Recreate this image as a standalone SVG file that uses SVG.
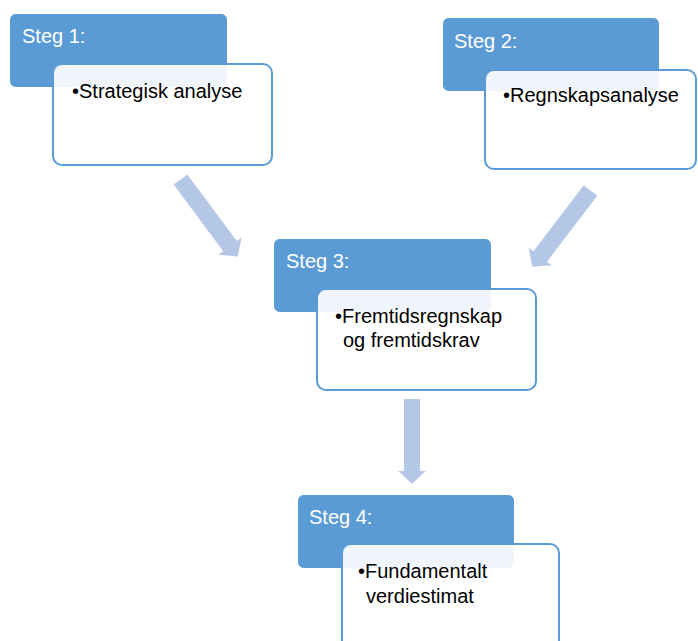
<svg xmlns="http://www.w3.org/2000/svg" width="698" height="641" viewBox="0 0 698 641">
<style>
.hdr{fill:#5B9BD5;stroke:#5B9BD5;stroke-width:1}
.card{fill:#ffffff;fill-opacity:0.9;stroke:#5B9BD5;stroke-width:2}
.ht{font-family:"Liberation Sans",Arial,sans-serif;font-size:20px;fill:#ffffff}
.bt{font-family:"Liberation Sans",Arial,sans-serif;font-size:20px;fill:#000000}
.arr{fill:#B4C7E7}
</style>
<defs>
<path id="arrowLong" d="M-8.5,0 H8.5 V83 H14.5 L0,96 L-14.5,83 H-8.5 Z"/>
<path id="arrowShort" d="M-8,0 H8 V72 H13.5 L0,85 L-13.5,72 H-8 Z"/>
</defs>
<rect width="698" height="641" fill="#ffffff"/>
<g id="connectors">
<use href="#arrowLong" class="arr" transform="translate(180.5,179.5) rotate(-36.6)"/>
<use href="#arrowLong" class="arr" transform="translate(590.5,190.5) rotate(37.3)"/>
<use href="#arrowShort" class="arr" transform="translate(412,399)"/>
</g>
<g id="step1">
<rect class="hdr" x="10.5" y="14.5" width="216" height="72" rx="5"/>
<text class="ht" x="22" y="43">Steg 1:</text>
<rect class="card" x="53" y="64" width="219" height="101" rx="9"/>
<text class="bt" x="72" y="98">•Strategisk analyse</text>
</g>
<g id="step2">
<rect class="hdr" x="443.5" y="18.5" width="215" height="72" rx="5"/>
<text class="ht" x="454" y="48">Steg 2:</text>
<rect class="card" x="485" y="70" width="211" height="99" rx="9"/>
<text class="bt" x="503" y="102">•Regnskapsanalyse</text>
</g>
<g id="step3">
<rect class="hdr" x="274.5" y="239.5" width="216" height="72" rx="5"/>
<text class="ht" x="286" y="268">Steg 3:</text>
<rect class="card" x="317" y="289" width="219" height="101" rx="9"/>
<text class="bt" x="335" y="323">•Fremtidsregnskap</text>
<text class="bt" x="343" y="347">og fremtidskrav</text>
</g>
<g id="step4">
<rect class="hdr" x="298.5" y="495.5" width="215" height="72" rx="5"/>
<text class="ht" x="309" y="524">Steg 4:</text>
<rect class="card" x="342" y="544" width="217" height="110" rx="9"/>
<text class="bt" x="358" y="578">•Fundamentalt</text>
<text class="bt" x="366" y="603">verdiestimat</text>
</g>
</svg>
